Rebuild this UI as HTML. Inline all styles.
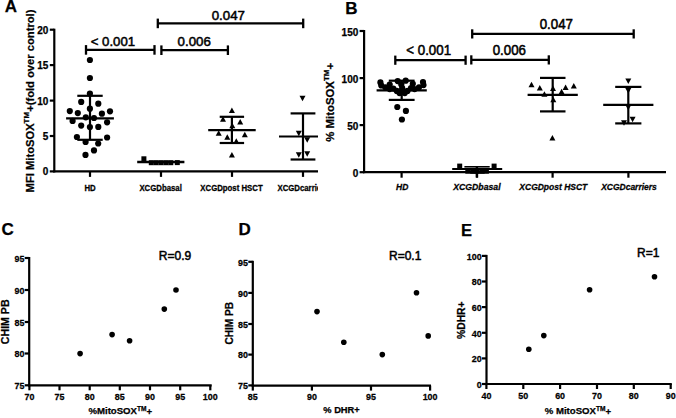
<!DOCTYPE html>
<html><head><meta charset="utf-8"><style>
html,body{margin:0;padding:0;background:#fff;}
svg{display:block;}
svg text{font-family:"Liberation Sans", sans-serif;fill:#000;stroke:#000;stroke-width:0.25px;} svg text[font-weight=normal]{stroke-width:0.5px;}
</style></head><body>
<svg width="676" height="418" viewBox="0 0 676 418">
<defs><clipPath id="clipA"><rect x="0" y="0" width="318" height="210"/></clipPath></defs>
<rect width="676" height="418" fill="#fff"/>
<g fill="#000">
<text x="11.0" y="12.2" font-size="17" font-weight="bold" font-style="normal" text-anchor="middle" >A</text>
<line x1="54.3" y1="28.7" x2="54.3" y2="172.4" stroke="#000" stroke-width="2.2"/>
<line x1="49.8" y1="171.4" x2="54.3" y2="171.4" stroke="#000" stroke-width="2.2"/>
<text x="48.3" y="175.4" font-size="10" font-weight="bold" font-style="normal" text-anchor="end" >0</text>
<line x1="49.8" y1="136.0" x2="54.3" y2="136.0" stroke="#000" stroke-width="2.2"/>
<text x="48.3" y="140.0" font-size="10" font-weight="bold" font-style="normal" text-anchor="end" >5</text>
<line x1="49.8" y1="100.6" x2="54.3" y2="100.6" stroke="#000" stroke-width="2.2"/>
<text x="48.3" y="104.6" font-size="10" font-weight="bold" font-style="normal" text-anchor="end" >10</text>
<line x1="49.8" y1="65.1" x2="54.3" y2="65.1" stroke="#000" stroke-width="2.2"/>
<text x="48.3" y="69.1" font-size="10" font-weight="bold" font-style="normal" text-anchor="end" >15</text>
<line x1="49.8" y1="29.7" x2="54.3" y2="29.7" stroke="#000" stroke-width="2.2"/>
<text x="48.3" y="33.7" font-size="10" font-weight="bold" font-style="normal" text-anchor="end" >20</text>
<g clip-path="url(#clipA)">
<line x1="53.3" y1="171.4" x2="330.0" y2="171.4" stroke="#000" stroke-width="2.2"/>
<line x1="90.0" y1="171.4" x2="90.0" y2="176.9" stroke="#000" stroke-width="2.2"/>
<line x1="161.0" y1="171.4" x2="161.0" y2="176.9" stroke="#000" stroke-width="2.2"/>
<line x1="232.0" y1="171.4" x2="232.0" y2="176.9" stroke="#000" stroke-width="2.2"/>
<line x1="303.0" y1="171.4" x2="303.0" y2="176.9" stroke="#000" stroke-width="2.2"/>
<text transform="translate(90.0,190.5) scale(1,1.12)" font-size="7.8" font-weight="bold" font-style="normal" text-anchor="middle" >HD</text>
<text transform="translate(160.6,190.5) scale(1,1.12)" font-size="7.8" font-weight="bold" font-style="normal" text-anchor="middle" >XCGDbasal</text>
<text transform="translate(231.5,190.5) scale(1,1.12)" font-size="7.8" font-weight="bold" font-style="normal" text-anchor="middle" >XCGDpost HSCT</text>
<text transform="translate(303.0,190.5) scale(1,1.12)" font-size="7.8" font-weight="bold" font-style="normal" text-anchor="middle" >XCGDcarriers</text>
<line x1="66.1" y1="118.3" x2="113.9" y2="118.3" stroke="#000" stroke-width="2.2"/>
<line x1="77.3" y1="95.8" x2="102.7" y2="95.8" stroke="#000" stroke-width="2.2"/>
<line x1="77.3" y1="139.8" x2="102.7" y2="139.8" stroke="#000" stroke-width="2.2"/>
<line x1="90.0" y1="95.8" x2="90.0" y2="139.8" stroke="#000" stroke-width="2.2"/>
<circle cx="89.9" cy="60.0" r="3.1"/>
<circle cx="89.9" cy="78.0" r="3.1"/>
<circle cx="89.9" cy="93.6" r="3.1"/>
<circle cx="81.2" cy="101.9" r="3.1"/>
<circle cx="98.3" cy="103.7" r="3.1"/>
<circle cx="89.9" cy="108.7" r="3.1"/>
<circle cx="69.8" cy="111.1" r="3.1"/>
<circle cx="77.8" cy="113.1" r="3.1"/>
<circle cx="110.0" cy="111.3" r="3.1"/>
<circle cx="101.9" cy="113.7" r="3.1"/>
<circle cx="85.8" cy="117.3" r="3.1"/>
<circle cx="94.0" cy="118.0" r="3.1"/>
<circle cx="72.6" cy="120.9" r="3.1"/>
<circle cx="107.1" cy="122.3" r="3.1"/>
<circle cx="81.2" cy="125.6" r="3.1"/>
<circle cx="89.9" cy="127.1" r="3.1"/>
<circle cx="98.3" cy="126.9" r="3.1"/>
<circle cx="76.9" cy="137.0" r="3.1"/>
<circle cx="107.1" cy="137.5" r="3.1"/>
<circle cx="85.6" cy="142.0" r="3.1"/>
<circle cx="98.2" cy="143.5" r="3.1"/>
<circle cx="94.0" cy="150.4" r="3.1"/>
<circle cx="85.5" cy="154.9" r="3.1"/>
<line x1="137.2" y1="162.0" x2="184.4" y2="162.0" stroke="#000" stroke-width="2.4"/>
<rect x="141.4" y="156.3" width="5" height="5"/>
<rect x="148.8" y="160.2" width="5" height="5"/>
<rect x="153.7" y="160.2" width="5" height="5"/>
<rect x="158.6" y="160.2" width="5" height="5"/>
<rect x="163.5" y="160.2" width="5" height="5"/>
<rect x="168.3" y="160.2" width="5" height="5"/>
<rect x="174.8" y="160.1" width="5" height="5"/>
<line x1="208.2" y1="130.1" x2="255.7" y2="130.1" stroke="#000" stroke-width="2.2"/>
<line x1="219.7" y1="116.8" x2="244.1" y2="116.8" stroke="#000" stroke-width="2.2"/>
<line x1="219.7" y1="143.0" x2="244.1" y2="143.0" stroke="#000" stroke-width="2.2"/>
<line x1="231.9" y1="116.8" x2="231.9" y2="143.0" stroke="#000" stroke-width="2.2"/>
<path d="M228.9,113.0L234.9,113.0L231.9,107.5Z"/>
<path d="M220.0,121.8L226.0,121.8L223.0,116.2Z"/>
<path d="M237.2,124.5L243.2,124.5L240.2,119.0Z"/>
<path d="M229.3,128.2L235.3,128.2L232.3,122.8Z"/>
<path d="M215.7,135.8L221.7,135.8L218.7,130.2Z"/>
<path d="M224.3,139.8L230.3,139.8L227.3,134.2Z"/>
<path d="M241.8,137.2L247.8,137.2L244.8,131.7Z"/>
<path d="M233.3,143.8L239.3,143.8L236.3,138.2Z"/>
<path d="M228.9,157.6L234.9,157.6L231.9,152.1Z"/>
<line x1="279.0" y1="136.5" x2="327.0" y2="136.5" stroke="#000" stroke-width="2.2"/>
<line x1="290.6" y1="113.4" x2="315.4" y2="113.4" stroke="#000" stroke-width="2.2"/>
<line x1="290.6" y1="159.5" x2="315.4" y2="159.5" stroke="#000" stroke-width="2.2"/>
<line x1="303.0" y1="113.4" x2="303.0" y2="159.5" stroke="#000" stroke-width="2.2"/>
<path d="M299.5,95.8L305.5,95.8L302.5,101.3Z"/>
<path d="M295.8,130.8L301.8,130.8L298.8,136.2Z"/>
<path d="M304.2,137.2L310.2,137.2L307.2,142.7Z"/>
<path d="M295.8,152.2L301.8,152.2L298.8,157.8Z"/>
<path d="M304.2,151.2L310.2,151.2L307.2,156.8Z"/>
</g>
<line x1="86.0" y1="49.9" x2="154.5" y2="49.9" stroke="#000" stroke-width="2.3"/>
<line x1="86.0" y1="45.1" x2="86.0" y2="54.7" stroke="#000" stroke-width="2.3"/>
<line x1="154.5" y1="45.1" x2="154.5" y2="54.7" stroke="#000" stroke-width="2.3"/>
<text x="112.9" y="46.0" font-size="13.2" font-weight="normal" font-style="normal" text-anchor="middle" >&lt; 0.001</text>
<line x1="161.4" y1="50.2" x2="227.9" y2="50.2" stroke="#000" stroke-width="2.3"/>
<line x1="161.4" y1="45.4" x2="161.4" y2="55.0" stroke="#000" stroke-width="2.3"/>
<line x1="227.9" y1="45.4" x2="227.9" y2="55.0" stroke="#000" stroke-width="2.3"/>
<text x="194.2" y="45.9" font-size="13.3" font-weight="normal" font-style="normal" text-anchor="middle" >0.006</text>
<line x1="157.8" y1="23.4" x2="303.2" y2="23.4" stroke="#000" stroke-width="2.3"/>
<line x1="157.8" y1="18.6" x2="157.8" y2="28.2" stroke="#000" stroke-width="2.3"/>
<line x1="303.2" y1="18.6" x2="303.2" y2="28.2" stroke="#000" stroke-width="2.3"/>
<text x="228.3" y="20.4" font-size="13.3" font-weight="normal" font-style="normal" text-anchor="middle" >0.047</text>
<text transform="translate(33.8,101.0) rotate(-90)" x="0" y="0" font-size="11.2" font-weight="bold" text-anchor="middle" >MFI MitoSOX<tspan font-size="8" dy="-5">TM</tspan><tspan dy="5">+(fold over control)</tspan></text>
<text x="351.4" y="13.5" font-size="17" font-weight="bold" font-style="normal" text-anchor="middle" >B</text>
<line x1="364.1" y1="30.0" x2="364.1" y2="173.2" stroke="#000" stroke-width="2.2"/>
<line x1="359.6" y1="172.2" x2="364.1" y2="172.2" stroke="#000" stroke-width="2.2"/>
<text x="358.3" y="176.7" font-size="10" font-weight="bold" font-style="normal" text-anchor="end" >0</text>
<line x1="359.6" y1="125.1" x2="364.1" y2="125.1" stroke="#000" stroke-width="2.2"/>
<text x="358.3" y="129.6" font-size="10" font-weight="bold" font-style="normal" text-anchor="end" >50</text>
<line x1="359.6" y1="78.1" x2="364.1" y2="78.1" stroke="#000" stroke-width="2.2"/>
<text x="358.3" y="82.6" font-size="10" font-weight="bold" font-style="normal" text-anchor="end" >100</text>
<line x1="359.6" y1="31.0" x2="364.1" y2="31.0" stroke="#000" stroke-width="2.2"/>
<text x="358.3" y="35.5" font-size="10" font-weight="bold" font-style="normal" text-anchor="end" >150</text>
<line x1="363.1" y1="172.2" x2="666.0" y2="172.2" stroke="#000" stroke-width="2.2"/>
<line x1="401.6" y1="172.2" x2="401.6" y2="177.7" stroke="#000" stroke-width="2.2"/>
<line x1="477.0" y1="172.2" x2="477.0" y2="177.7" stroke="#000" stroke-width="2.2"/>
<line x1="552.6" y1="172.2" x2="552.6" y2="177.7" stroke="#000" stroke-width="2.2"/>
<line x1="628.4" y1="172.2" x2="628.4" y2="177.7" stroke="#000" stroke-width="2.2"/>
<text transform="translate(402.2,189.9) scale(1,1.1)" font-size="8.5" font-weight="bold" font-style="italic" text-anchor="middle" >HD</text>
<text transform="translate(476.9,189.9) scale(1,1.1)" font-size="8.7" font-weight="bold" font-style="italic" text-anchor="middle" >XCGDbasal</text>
<text transform="translate(553.3,189.6) scale(1,1.1)" font-size="8.5" font-weight="bold" font-style="italic" text-anchor="middle" >XCGDpost HSCT</text>
<text transform="translate(629.0,189.6) scale(1,1.1)" font-size="8.5" font-weight="bold" font-style="italic" text-anchor="middle" >XCGDcarriers</text>
<line x1="376.6" y1="90.4" x2="426.8" y2="90.4" stroke="#000" stroke-width="2.2"/>
<line x1="388.8" y1="80.7" x2="414.6" y2="80.7" stroke="#000" stroke-width="2.2"/>
<line x1="388.8" y1="99.9" x2="414.6" y2="99.9" stroke="#000" stroke-width="2.2"/>
<line x1="401.7" y1="80.7" x2="401.7" y2="99.9" stroke="#000" stroke-width="2.2"/>
<circle cx="380.4" cy="82.4" r="3.1"/>
<circle cx="381.3" cy="85.5" r="3.1"/>
<circle cx="423.0" cy="82.0" r="3.1"/>
<circle cx="423.5" cy="85.1" r="3.1"/>
<circle cx="397.7" cy="81.1" r="3.1"/>
<circle cx="405.7" cy="80.7" r="3.1"/>
<circle cx="389.7" cy="84.6" r="3.1"/>
<circle cx="412.8" cy="83.8" r="3.1"/>
<circle cx="401.3" cy="84.6" r="3.1"/>
<circle cx="385.3" cy="87.3" r="3.1"/>
<circle cx="419.0" cy="87.3" r="3.1"/>
<circle cx="393.3" cy="88.6" r="3.1"/>
<circle cx="411.0" cy="88.2" r="3.1"/>
<circle cx="396.8" cy="90.9" r="3.1"/>
<circle cx="407.5" cy="90.9" r="3.1"/>
<circle cx="402.2" cy="92.2" r="3.1"/>
<circle cx="402.2" cy="88.2" r="3.1"/>
<circle cx="389.7" cy="89.1" r="3.1"/>
<circle cx="414.6" cy="89.1" r="3.1"/>
<circle cx="399.5" cy="93.1" r="3.1"/>
<circle cx="404.8" cy="93.1" r="3.1"/>
<circle cx="397.3" cy="107.0" r="3.1"/>
<circle cx="405.9" cy="110.9" r="3.1"/>
<circle cx="401.9" cy="119.5" r="3.1"/>
<line x1="452.2" y1="169.0" x2="502.2" y2="169.0" stroke="#000" stroke-width="2.2"/>
<line x1="464.4" y1="166.8" x2="489.7" y2="166.8" stroke="#000" stroke-width="1.6"/>
<rect x="457.2" y="163.6" width="5" height="5"/>
<rect x="491.6" y="163.6" width="5" height="5"/>
<rect x="465.3" y="168.7" width="5" height="5"/>
<rect x="470.1" y="168.9" width="5" height="5"/>
<rect x="474.8" y="168.9" width="5" height="5"/>
<rect x="479.5" y="168.9" width="5" height="5"/>
<rect x="483.9" y="168.7" width="5" height="5"/>
<line x1="476.9" y1="166.0" x2="476.9" y2="177.5" stroke="#000" stroke-width="2.4"/>
<line x1="527.6" y1="94.9" x2="577.8" y2="94.9" stroke="#000" stroke-width="2.2"/>
<line x1="540.0" y1="77.9" x2="565.5" y2="77.9" stroke="#000" stroke-width="2.2"/>
<line x1="540.0" y1="111.4" x2="565.5" y2="111.4" stroke="#000" stroke-width="2.2"/>
<line x1="552.7" y1="77.9" x2="552.7" y2="111.4" stroke="#000" stroke-width="2.2"/>
<path d="M528.5,87.2L534.5,87.2L531.5,81.7Z"/>
<path d="M536.8,90.5L542.8,90.5L539.8,85.0Z"/>
<path d="M541.4,96.8L547.4,96.8L544.4,91.2Z"/>
<path d="M550.0,91.0L556.0,91.0L553.0,85.5Z"/>
<path d="M558.6,94.3L564.6,94.3L561.6,88.8Z"/>
<path d="M562.6,90.0L568.6,90.0L565.6,84.5Z"/>
<path d="M570.8,88.5L576.8,88.5L573.8,83.0Z"/>
<path d="M550.3,102.2L556.3,102.2L553.3,96.7Z"/>
<path d="M549.4,140.6L555.4,140.6L552.4,135.1Z"/>
<line x1="603.2" y1="104.9" x2="653.4" y2="104.9" stroke="#000" stroke-width="2.2"/>
<line x1="615.2" y1="86.9" x2="641.4" y2="86.9" stroke="#000" stroke-width="2.2"/>
<line x1="615.2" y1="123.4" x2="641.4" y2="123.4" stroke="#000" stroke-width="2.2"/>
<line x1="628.3" y1="86.9" x2="628.3" y2="123.4" stroke="#000" stroke-width="2.2"/>
<path d="M625.3,78.5L631.3,78.5L628.3,84.0Z"/>
<path d="M625.3,88.0L631.3,88.0L628.3,93.5Z"/>
<path d="M625.3,104.8L631.3,104.8L628.3,110.3Z"/>
<path d="M629.6,116.8L635.6,116.8L632.6,122.2Z"/>
<path d="M621.0,120.3L627.0,120.3L624.0,125.8Z"/>
<line x1="395.3" y1="60.2" x2="465.6" y2="60.2" stroke="#000" stroke-width="2.3"/>
<line x1="395.3" y1="55.6" x2="395.3" y2="64.8" stroke="#000" stroke-width="2.3"/>
<line x1="465.6" y1="55.6" x2="465.6" y2="64.8" stroke="#000" stroke-width="2.3"/>
<text transform="translate(428.7,55.1) scale(1,1.06)" font-size="13.3" font-weight="normal" font-style="normal" text-anchor="middle" >&lt; 0.001</text>
<line x1="471.3" y1="59.9" x2="548.8" y2="59.9" stroke="#000" stroke-width="2.3"/>
<line x1="471.3" y1="55.3" x2="471.3" y2="64.5" stroke="#000" stroke-width="2.3"/>
<line x1="548.8" y1="55.3" x2="548.8" y2="64.5" stroke="#000" stroke-width="2.3"/>
<text transform="translate(509.3,55.3) scale(1,1.08)" font-size="13.3" font-weight="normal" font-style="normal" text-anchor="middle" >0.006</text>
<line x1="472.2" y1="33.9" x2="633.7" y2="33.9" stroke="#000" stroke-width="2.3"/>
<line x1="472.2" y1="29.3" x2="472.2" y2="38.5" stroke="#000" stroke-width="2.3"/>
<line x1="633.7" y1="29.3" x2="633.7" y2="38.5" stroke="#000" stroke-width="2.3"/>
<text transform="translate(556.3,29.3) scale(1,1.08)" font-size="13.3" font-weight="normal" font-style="normal" text-anchor="middle" >0.047</text>
<text transform="translate(334.0,102.3) rotate(-90)" x="0" y="0" font-size="11.4" font-weight="bold" text-anchor="middle" >% MitoSOX<tspan font-size="8" dy="-5">TM</tspan><tspan dy="5">+</tspan></text>
<text x="7.7" y="234.6" font-size="17" font-weight="bold" font-style="normal" text-anchor="middle" >C</text>
<line x1="29.2" y1="257.0" x2="29.2" y2="386.3" stroke="#000" stroke-width="2.2"/>
<line x1="24.7" y1="258.0" x2="29.2" y2="258.0" stroke="#000" stroke-width="2.2"/>
<text transform="translate(24.4,261.8) scale(0.97,1.07)" font-size="9.2" font-weight="bold" font-style="normal" text-anchor="end" >95</text>
<line x1="24.7" y1="290.0" x2="29.2" y2="290.0" stroke="#000" stroke-width="2.2"/>
<text transform="translate(24.4,293.8) scale(0.97,1.07)" font-size="9.2" font-weight="bold" font-style="normal" text-anchor="end" >90</text>
<line x1="24.7" y1="322.0" x2="29.2" y2="322.0" stroke="#000" stroke-width="2.2"/>
<text transform="translate(24.4,325.8) scale(0.97,1.07)" font-size="9.2" font-weight="bold" font-style="normal" text-anchor="end" >85</text>
<line x1="24.7" y1="353.5" x2="29.2" y2="353.5" stroke="#000" stroke-width="2.2"/>
<text transform="translate(24.4,357.3) scale(0.97,1.07)" font-size="9.2" font-weight="bold" font-style="normal" text-anchor="end" >80</text>
<line x1="24.7" y1="385.3" x2="29.2" y2="385.3" stroke="#000" stroke-width="2.2"/>
<text transform="translate(24.4,389.1) scale(0.97,1.07)" font-size="9.2" font-weight="bold" font-style="normal" text-anchor="end" >75</text>
<line x1="28.2" y1="385.3" x2="211.7" y2="385.3" stroke="#000" stroke-width="2.2"/>
<line x1="29.4" y1="385.3" x2="29.4" y2="390.3" stroke="#000" stroke-width="2.2"/>
<text transform="translate(29.4,399.6) scale(0.97,1.07)" font-size="9.2" font-weight="bold" font-style="normal" text-anchor="middle" >70</text>
<line x1="59.5" y1="385.3" x2="59.5" y2="390.3" stroke="#000" stroke-width="2.2"/>
<text transform="translate(59.5,399.6) scale(0.97,1.07)" font-size="9.2" font-weight="bold" font-style="normal" text-anchor="middle" >75</text>
<line x1="89.7" y1="385.3" x2="89.7" y2="390.3" stroke="#000" stroke-width="2.2"/>
<text transform="translate(89.7,399.6) scale(0.97,1.07)" font-size="9.2" font-weight="bold" font-style="normal" text-anchor="middle" >80</text>
<line x1="119.8" y1="385.3" x2="119.8" y2="390.3" stroke="#000" stroke-width="2.2"/>
<text transform="translate(119.8,399.6) scale(0.97,1.07)" font-size="9.2" font-weight="bold" font-style="normal" text-anchor="middle" >85</text>
<line x1="150.0" y1="385.3" x2="150.0" y2="390.3" stroke="#000" stroke-width="2.2"/>
<text transform="translate(150.0,399.6) scale(0.97,1.07)" font-size="9.2" font-weight="bold" font-style="normal" text-anchor="middle" >90</text>
<line x1="180.2" y1="385.3" x2="180.2" y2="390.3" stroke="#000" stroke-width="2.2"/>
<text transform="translate(180.2,399.6) scale(0.97,1.07)" font-size="9.2" font-weight="bold" font-style="normal" text-anchor="middle" >95</text>
<line x1="210.3" y1="385.3" x2="210.3" y2="390.3" stroke="#000" stroke-width="2.2"/>
<text transform="translate(210.3,399.6) scale(0.97,1.07)" font-size="9.2" font-weight="bold" font-style="normal" text-anchor="middle" >100</text>
<circle cx="80.1" cy="353.6" r="2.8"/>
<circle cx="112.1" cy="334.6" r="2.8"/>
<circle cx="129.6" cy="340.7" r="2.8"/>
<circle cx="164.3" cy="309.1" r="2.8"/>
<circle cx="176.0" cy="290.0" r="2.8"/>
<text x="175.0" y="260.0" font-size="12" font-weight="normal" font-style="normal" text-anchor="middle" >R=0.9</text>
<text transform="translate(9.2,321.8) rotate(-90)" x="0" y="0" font-size="10.6" font-weight="bold" text-anchor="middle" >CHIM PB</text>
<text x="120.3" y="414.2" font-size="9.6" font-weight="bold" font-style="normal" text-anchor="middle" >%MitoSOX<tspan font-size="6.6" dy="-3">TM</tspan><tspan dy="4">+</tspan></text>
<text x="244.6" y="234.9" font-size="17" font-weight="bold" font-style="normal" text-anchor="middle" >D</text>
<line x1="252.8" y1="260.8" x2="252.8" y2="386.6" stroke="#000" stroke-width="2.2"/>
<line x1="248.3" y1="261.8" x2="252.8" y2="261.8" stroke="#000" stroke-width="2.2"/>
<text transform="translate(248.0,265.6) scale(0.97,1.07)" font-size="9.2" font-weight="bold" font-style="normal" text-anchor="end" >95</text>
<line x1="248.3" y1="292.9" x2="252.8" y2="292.9" stroke="#000" stroke-width="2.2"/>
<text transform="translate(248.0,296.7) scale(0.97,1.07)" font-size="9.2" font-weight="bold" font-style="normal" text-anchor="end" >90</text>
<line x1="248.3" y1="324.0" x2="252.8" y2="324.0" stroke="#000" stroke-width="2.2"/>
<text transform="translate(248.0,327.8) scale(0.97,1.07)" font-size="9.2" font-weight="bold" font-style="normal" text-anchor="end" >85</text>
<line x1="248.3" y1="354.6" x2="252.8" y2="354.6" stroke="#000" stroke-width="2.2"/>
<text transform="translate(248.0,358.4) scale(0.97,1.07)" font-size="9.2" font-weight="bold" font-style="normal" text-anchor="end" >80</text>
<line x1="248.3" y1="385.4" x2="252.8" y2="385.4" stroke="#000" stroke-width="2.2"/>
<text transform="translate(248.0,389.2) scale(0.97,1.07)" font-size="9.2" font-weight="bold" font-style="normal" text-anchor="end" >75</text>
<line x1="251.8" y1="385.6" x2="431.0" y2="385.6" stroke="#000" stroke-width="2.2"/>
<line x1="252.8" y1="385.6" x2="252.8" y2="390.6" stroke="#000" stroke-width="2.2"/>
<text transform="translate(252.8,399.6) scale(0.97,1.07)" font-size="9.2" font-weight="bold" font-style="normal" text-anchor="middle" >85</text>
<line x1="311.9" y1="385.6" x2="311.9" y2="390.6" stroke="#000" stroke-width="2.2"/>
<text transform="translate(311.9,399.6) scale(0.97,1.07)" font-size="9.2" font-weight="bold" font-style="normal" text-anchor="middle" >90</text>
<line x1="371.0" y1="385.6" x2="371.0" y2="390.6" stroke="#000" stroke-width="2.2"/>
<text transform="translate(371.0,399.6) scale(0.97,1.07)" font-size="9.2" font-weight="bold" font-style="normal" text-anchor="middle" >95</text>
<line x1="430.1" y1="385.6" x2="430.1" y2="390.6" stroke="#000" stroke-width="2.2"/>
<text transform="translate(430.1,399.6) scale(0.97,1.07)" font-size="9.2" font-weight="bold" font-style="normal" text-anchor="middle" >100</text>
<circle cx="317.0" cy="311.6" r="2.8"/>
<circle cx="343.8" cy="342.2" r="2.8"/>
<circle cx="382.3" cy="354.6" r="2.8"/>
<circle cx="416.5" cy="292.8" r="2.8"/>
<circle cx="428.2" cy="335.9" r="2.8"/>
<text x="405.2" y="259.5" font-size="12" font-weight="normal" font-style="normal" text-anchor="middle" >R=0.1</text>
<text transform="translate(232.5,323.2) rotate(-90)" x="0" y="0" font-size="10.1" font-weight="bold" text-anchor="middle" >CHIM PB</text>
<text x="341.5" y="413.2" font-size="9.3" font-weight="bold" font-style="normal" text-anchor="middle" >% DHR+</text>
<text x="466.4" y="236.4" font-size="16.5" font-weight="bold" font-style="normal" text-anchor="middle" >E</text>
<line x1="486.5" y1="254.9" x2="486.5" y2="385.0" stroke="#000" stroke-width="2.2"/>
<line x1="482.0" y1="255.9" x2="486.5" y2="255.9" stroke="#000" stroke-width="2.2"/>
<text transform="translate(481.7,259.7) scale(0.97,1.07)" font-size="9.2" font-weight="bold" font-style="normal" text-anchor="end" >100</text>
<line x1="482.0" y1="281.5" x2="486.5" y2="281.5" stroke="#000" stroke-width="2.2"/>
<text transform="translate(481.7,285.3) scale(0.97,1.07)" font-size="9.2" font-weight="bold" font-style="normal" text-anchor="end" >80</text>
<line x1="482.0" y1="307.1" x2="486.5" y2="307.1" stroke="#000" stroke-width="2.2"/>
<text transform="translate(481.7,310.9) scale(0.97,1.07)" font-size="9.2" font-weight="bold" font-style="normal" text-anchor="end" >60</text>
<line x1="482.0" y1="332.8" x2="486.5" y2="332.8" stroke="#000" stroke-width="2.2"/>
<text transform="translate(481.7,336.6) scale(0.97,1.07)" font-size="9.2" font-weight="bold" font-style="normal" text-anchor="end" >40</text>
<line x1="482.0" y1="358.4" x2="486.5" y2="358.4" stroke="#000" stroke-width="2.2"/>
<text transform="translate(481.7,362.2) scale(0.97,1.07)" font-size="9.2" font-weight="bold" font-style="normal" text-anchor="end" >20</text>
<line x1="482.0" y1="384.0" x2="486.5" y2="384.0" stroke="#000" stroke-width="2.2"/>
<text transform="translate(481.7,387.8) scale(0.97,1.07)" font-size="9.2" font-weight="bold" font-style="normal" text-anchor="end" >0</text>
<line x1="485.5" y1="384.0" x2="671.8" y2="384.0" stroke="#000" stroke-width="2.2"/>
<line x1="486.4" y1="384.0" x2="486.4" y2="389.0" stroke="#000" stroke-width="2.2"/>
<text transform="translate(486.4,399.0) scale(0.97,1.07)" font-size="9.2" font-weight="bold" font-style="normal" text-anchor="middle" >40</text>
<line x1="523.3" y1="384.0" x2="523.3" y2="389.0" stroke="#000" stroke-width="2.2"/>
<text transform="translate(523.3,399.0) scale(0.97,1.07)" font-size="9.2" font-weight="bold" font-style="normal" text-anchor="middle" >50</text>
<line x1="560.1" y1="384.0" x2="560.1" y2="389.0" stroke="#000" stroke-width="2.2"/>
<text transform="translate(560.1,399.0) scale(0.97,1.07)" font-size="9.2" font-weight="bold" font-style="normal" text-anchor="middle" >60</text>
<line x1="597.0" y1="384.0" x2="597.0" y2="389.0" stroke="#000" stroke-width="2.2"/>
<text transform="translate(597.0,399.0) scale(0.97,1.07)" font-size="9.2" font-weight="bold" font-style="normal" text-anchor="middle" >70</text>
<line x1="633.8" y1="384.0" x2="633.8" y2="389.0" stroke="#000" stroke-width="2.2"/>
<text transform="translate(633.8,399.0) scale(0.97,1.07)" font-size="9.2" font-weight="bold" font-style="normal" text-anchor="middle" >80</text>
<line x1="670.7" y1="384.0" x2="670.7" y2="389.0" stroke="#000" stroke-width="2.2"/>
<text transform="translate(670.7,399.0) scale(0.97,1.07)" font-size="9.2" font-weight="bold" font-style="normal" text-anchor="middle" >90</text>
<circle cx="528.8" cy="349.2" r="2.8"/>
<circle cx="543.8" cy="335.6" r="2.8"/>
<circle cx="589.6" cy="289.7" r="2.8"/>
<circle cx="654.5" cy="276.8" r="2.8"/>
<text x="648.2" y="257.2" font-size="12" font-weight="normal" font-style="normal" text-anchor="middle" >R=1</text>
<text transform="translate(464.5,320.2) rotate(-90)" x="0" y="0" font-size="10.3" font-weight="bold" text-anchor="middle" >%DHR+</text>
<text x="577.9" y="414.0" font-size="9.6" font-weight="bold" font-style="normal" text-anchor="middle" >% MitoSOX<tspan font-size="6.6" dy="-3">TM</tspan><tspan dy="4">+</tspan></text>
</g>
</svg>
</body></html>
